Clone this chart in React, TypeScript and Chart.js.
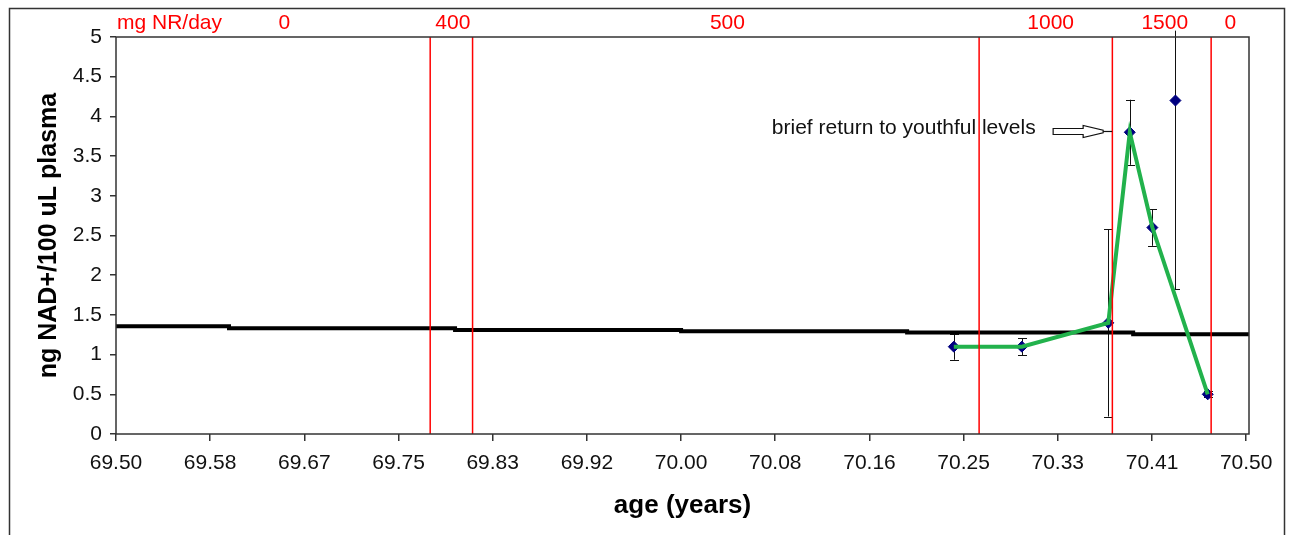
import React, { useEffect, useRef } from 'react';
import { Chart, registerables } from 'chart.js';

Chart.register(...registerables);

// ---- data ----
const xTickValues = [69.5, 69.5833, 69.6667, 69.75, 69.8333, 69.9167, 70.0, 70.0833, 70.1667, 70.25, 70.3333, 70.4167, 70.5];
const xTickLabels = ['69.50', '69.58', '69.67', '69.75', '69.83', '69.92', '70.00', '70.08', '70.16', '70.25', '70.33', '70.41', '70.50'];

const baselineAge = [69.5, 69.6, 69.8, 70.0, 70.2, 70.4, 70.5025];
const baselineLevel = [1.356, 1.331, 1.31, 1.293, 1.277, 1.256, 1.256];

const sampleAge = [70.2413, 70.3015, 70.378, 70.397, 70.417, 70.4374, 70.466];
const nadLevel = [1.1, 1.1, 1.4, 3.8, 2.6, 4.2, 0.5];
const errMinus = [0.165, 0.105, 1.18, 0.41, 0.23, 2.38, 0.04];
const errPlus = [0.165, 0.105, 1.18, 0.41, 0.23, 0.88, 0.04];
const inTrend = [true, true, true, true, true, false, true];

const doseChangeAge = [69.778, 69.8155, 70.2637, 70.3816, 70.469];
const doseLabels = ['0', '400', '500', '1000', '1500', '0'];
const doseLabelAge = [69.649, 69.798, 70.041, 70.327, 70.428, 70.486];
const doseHeader = 'mg NR/day';

const noteText = 'brief return to youthful levels';
const noteAge = 70.0803;
const noteLevel = 3.854;
const arrowTipAge = 70.3814;
const arrowTipLevel = 3.81;

const FONT = "'Liberation Sans', Arial, Helvetica, sans-serif";

export default function App() {
  const ref = useRef<HTMLCanvasElement>(null);

  useEffect(() => {
    const canvas = ref.current;
    if (!canvas) return;

    const decor = {
      id: 'decor',
      beforeDraw(chart: any) {
        const ctx = chart.ctx;
        ctx.save();
        ctx.fillStyle = '#fff';
        ctx.fillRect(0, 0, chart.width, chart.height);
        ctx.strokeStyle = '#333';
        ctx.lineWidth = 1.5;
        ctx.strokeRect(9.5, 8.5, 1275, 700);
        ctx.restore();
      },
      beforeDatasetsDraw(chart: any) {
        const ctx = chart.ctx;
        const xs = chart.scales.x;
        const ys = chart.scales.y;
        const area = chart.chartArea;
        ctx.save();
        // error bars
        ctx.strokeStyle = '#111';
        ctx.lineWidth = 1;
        sampleAge.forEach((a, i) => {
          const px = Math.round(xs.getPixelForValue(a)) + 0.5;
          const yTop = ys.getPixelForValue(nadLevel[i] + errPlus[i]);
          const yBot = ys.getPixelForValue(nadLevel[i] - errMinus[i]);
          ctx.beginPath();
          ctx.moveTo(px, yTop);
          ctx.lineTo(px, yBot);
          ctx.moveTo(px - 4.5, Math.round(yBot) + 0.5);
          ctx.lineTo(px + 4.5, Math.round(yBot) + 0.5);
          if (yTop > area.top) {
            ctx.moveTo(px - 4.5, Math.round(yTop) + 0.5);
            ctx.lineTo(px + 4.5, Math.round(yTop) + 0.5);
          }
          ctx.stroke();
        });
        ctx.restore();
      },
      afterDatasetsDraw(chart: any) {
        const ctx = chart.ctx;
        const xs = chart.scales.x;
        const ys = chart.scales.y;
        const area = chart.chartArea;
        ctx.save();
        // dose change lines
        ctx.strokeStyle = '#ff0000';
        ctx.lineWidth = 1.5;
        doseChangeAge.forEach((a) => {
          const px = xs.getPixelForValue(a);
          ctx.beginPath();
          ctx.moveTo(px, area.top);
          ctx.lineTo(px, area.bottom);
          ctx.stroke();
        });
        // plot frame
        ctx.strokeStyle = '#333';
        ctx.lineWidth = 1.5;
        ctx.strokeRect(area.left, area.top, area.right - area.left, area.bottom - area.top);
        // dose labels
        ctx.fillStyle = '#ff0000';
        ctx.font = `21px ${FONT}`;
        ctx.textBaseline = 'middle';
        ctx.textAlign = 'left';
        ctx.fillText(doseHeader, xs.getPixelForValue(xs.min) + 1, area.top - 14);
        ctx.textAlign = 'center';
        doseLabels.forEach((t, i) => {
          ctx.fillText(t, xs.getPixelForValue(doseLabelAge[i]), area.top - 14);
        });
        // note
        ctx.fillStyle = '#111';
        ctx.textAlign = 'left';
        ctx.fillText(noteText, xs.getPixelForValue(noteAge), ys.getPixelForValue(noteLevel));
        // block arrow
        const tx = xs.getPixelForValue(arrowTipAge);
        const ty = ys.getPixelForValue(arrowTipLevel);
        ctx.strokeStyle = '#111';
        ctx.fillStyle = '#fff';
        ctx.lineWidth = 1.2;
        ctx.beginPath();
        ctx.moveTo(tx - 59, ty - 3);
        ctx.lineTo(tx - 29, ty - 3);
        ctx.lineTo(tx - 29, ty - 6);
        ctx.lineTo(tx - 9, ty - 1.3);
        ctx.lineTo(tx - 9, ty + 1.3);
        ctx.lineTo(tx - 29, ty + 6);
        ctx.lineTo(tx - 29, ty + 3);
        ctx.lineTo(tx - 59, ty + 3);
        ctx.closePath();
        ctx.fill();
        ctx.stroke();
        ctx.beginPath();
        ctx.moveTo(tx - 9, ty);
        ctx.lineTo(tx, ty);
        ctx.stroke();
        ctx.restore();
      },
    };

    const tickFont = { family: FONT, size: 21 };

    const chart = new Chart(canvas, {
      type: 'scatter',
      data: {
        datasets: [
          {
            type: 'line',
            label: 'trend',
            data: sampleAge
              .map((x, i) => ({ x, y: nadLevel[i], keep: inTrend[i] }))
              .filter((p) => p.keep)
              .map((p) => ({ x: p.x, y: p.y })),
            borderColor: '#22b24c',
            borderWidth: 4,
            pointRadius: 0,
            tension: 0,
            order: 1,
          } as any,
          {
            type: 'scatter',
            label: 'samples',
            data: sampleAge.map((x, i) => ({ x, y: nadLevel[i] })),
            pointStyle: 'rectRot',
            pointRadius: 5.5,
            backgroundColor: '#000080',
            borderColor: '#000080',
            borderWidth: 1,
            order: 2,
          } as any,
          {
            type: 'line',
            label: 'baseline',
            data: baselineAge.map((x, i) => ({ x, y: baselineLevel[i] })),
            borderColor: '#000',
            borderWidth: 4,
            stepped: true,
            pointRadius: 0,
            order: 3,
          } as any,
        ],
      },
      options: {
        animation: false,
        responsive: false,
        devicePixelRatio: 1,
        layout: { padding: { top: 37, right: 40, left: 0, bottom: 0 } },
        plugins: { legend: { display: false }, tooltip: { enabled: false } },
        scales: {
          x: {
            type: 'linear',
            min: 69.5,
            max: 70.5025,
            afterBuildTicks: (s: any) => {
              s.ticks = xTickValues.map((v) => ({ value: v }));
            },
            afterFit: (s: any) => {
              s.height = 101;
            },
            ticks: {
              autoSkip: false,
              maxRotation: 0,
              callback: (_v: any, i: number) => xTickLabels[i],
              font: tickFont,
              color: '#111',
              padding: 10,
            },
            grid: { drawOnChartArea: false, drawTicks: true, tickLength: 7, color: '#333', lineWidth: 1.5 },
            border: { display: false },
            title: {
              display: true,
              text: 'age (years)',
              color: '#000',
              font: { family: FONT, size: 26, weight: 'bold' },
              padding: { top: 0, bottom: 14 },
            },
          },
          y: {
            type: 'linear',
            min: 0,
            max: 5,
            afterFit: (s: any) => {
              s.width = 116;
            },
            ticks: {
              stepSize: 0.5,
              font: tickFont,
              color: '#111',
              padding: 8,
              callback: (v: any) => String(Math.round(Number(v) * 10) / 10),
            },
            grid: { drawOnChartArea: false, drawTicks: true, tickLength: 6, color: '#333', lineWidth: 1.5 },
            border: { display: false },
            title: {
              display: true,
              text: 'ng NAD+/100 uL plasma',
              color: '#000',
              font: { family: FONT, size: 25, weight: 'bold' },
              padding: { top: 34, bottom: 0 },
            },
          },
        },
      } as any,
      plugins: [decor],
    });

    return () => chart.destroy();
  }, []);

  return (
    <div style={{ position: 'fixed', left: 0, top: 0, width: 1289, height: 535, background: '#fff' }}>
      <canvas ref={ref} width={1289} height={535} style={{ width: 1289, height: 535, display: 'block' }} />
    </div>
  );
}
